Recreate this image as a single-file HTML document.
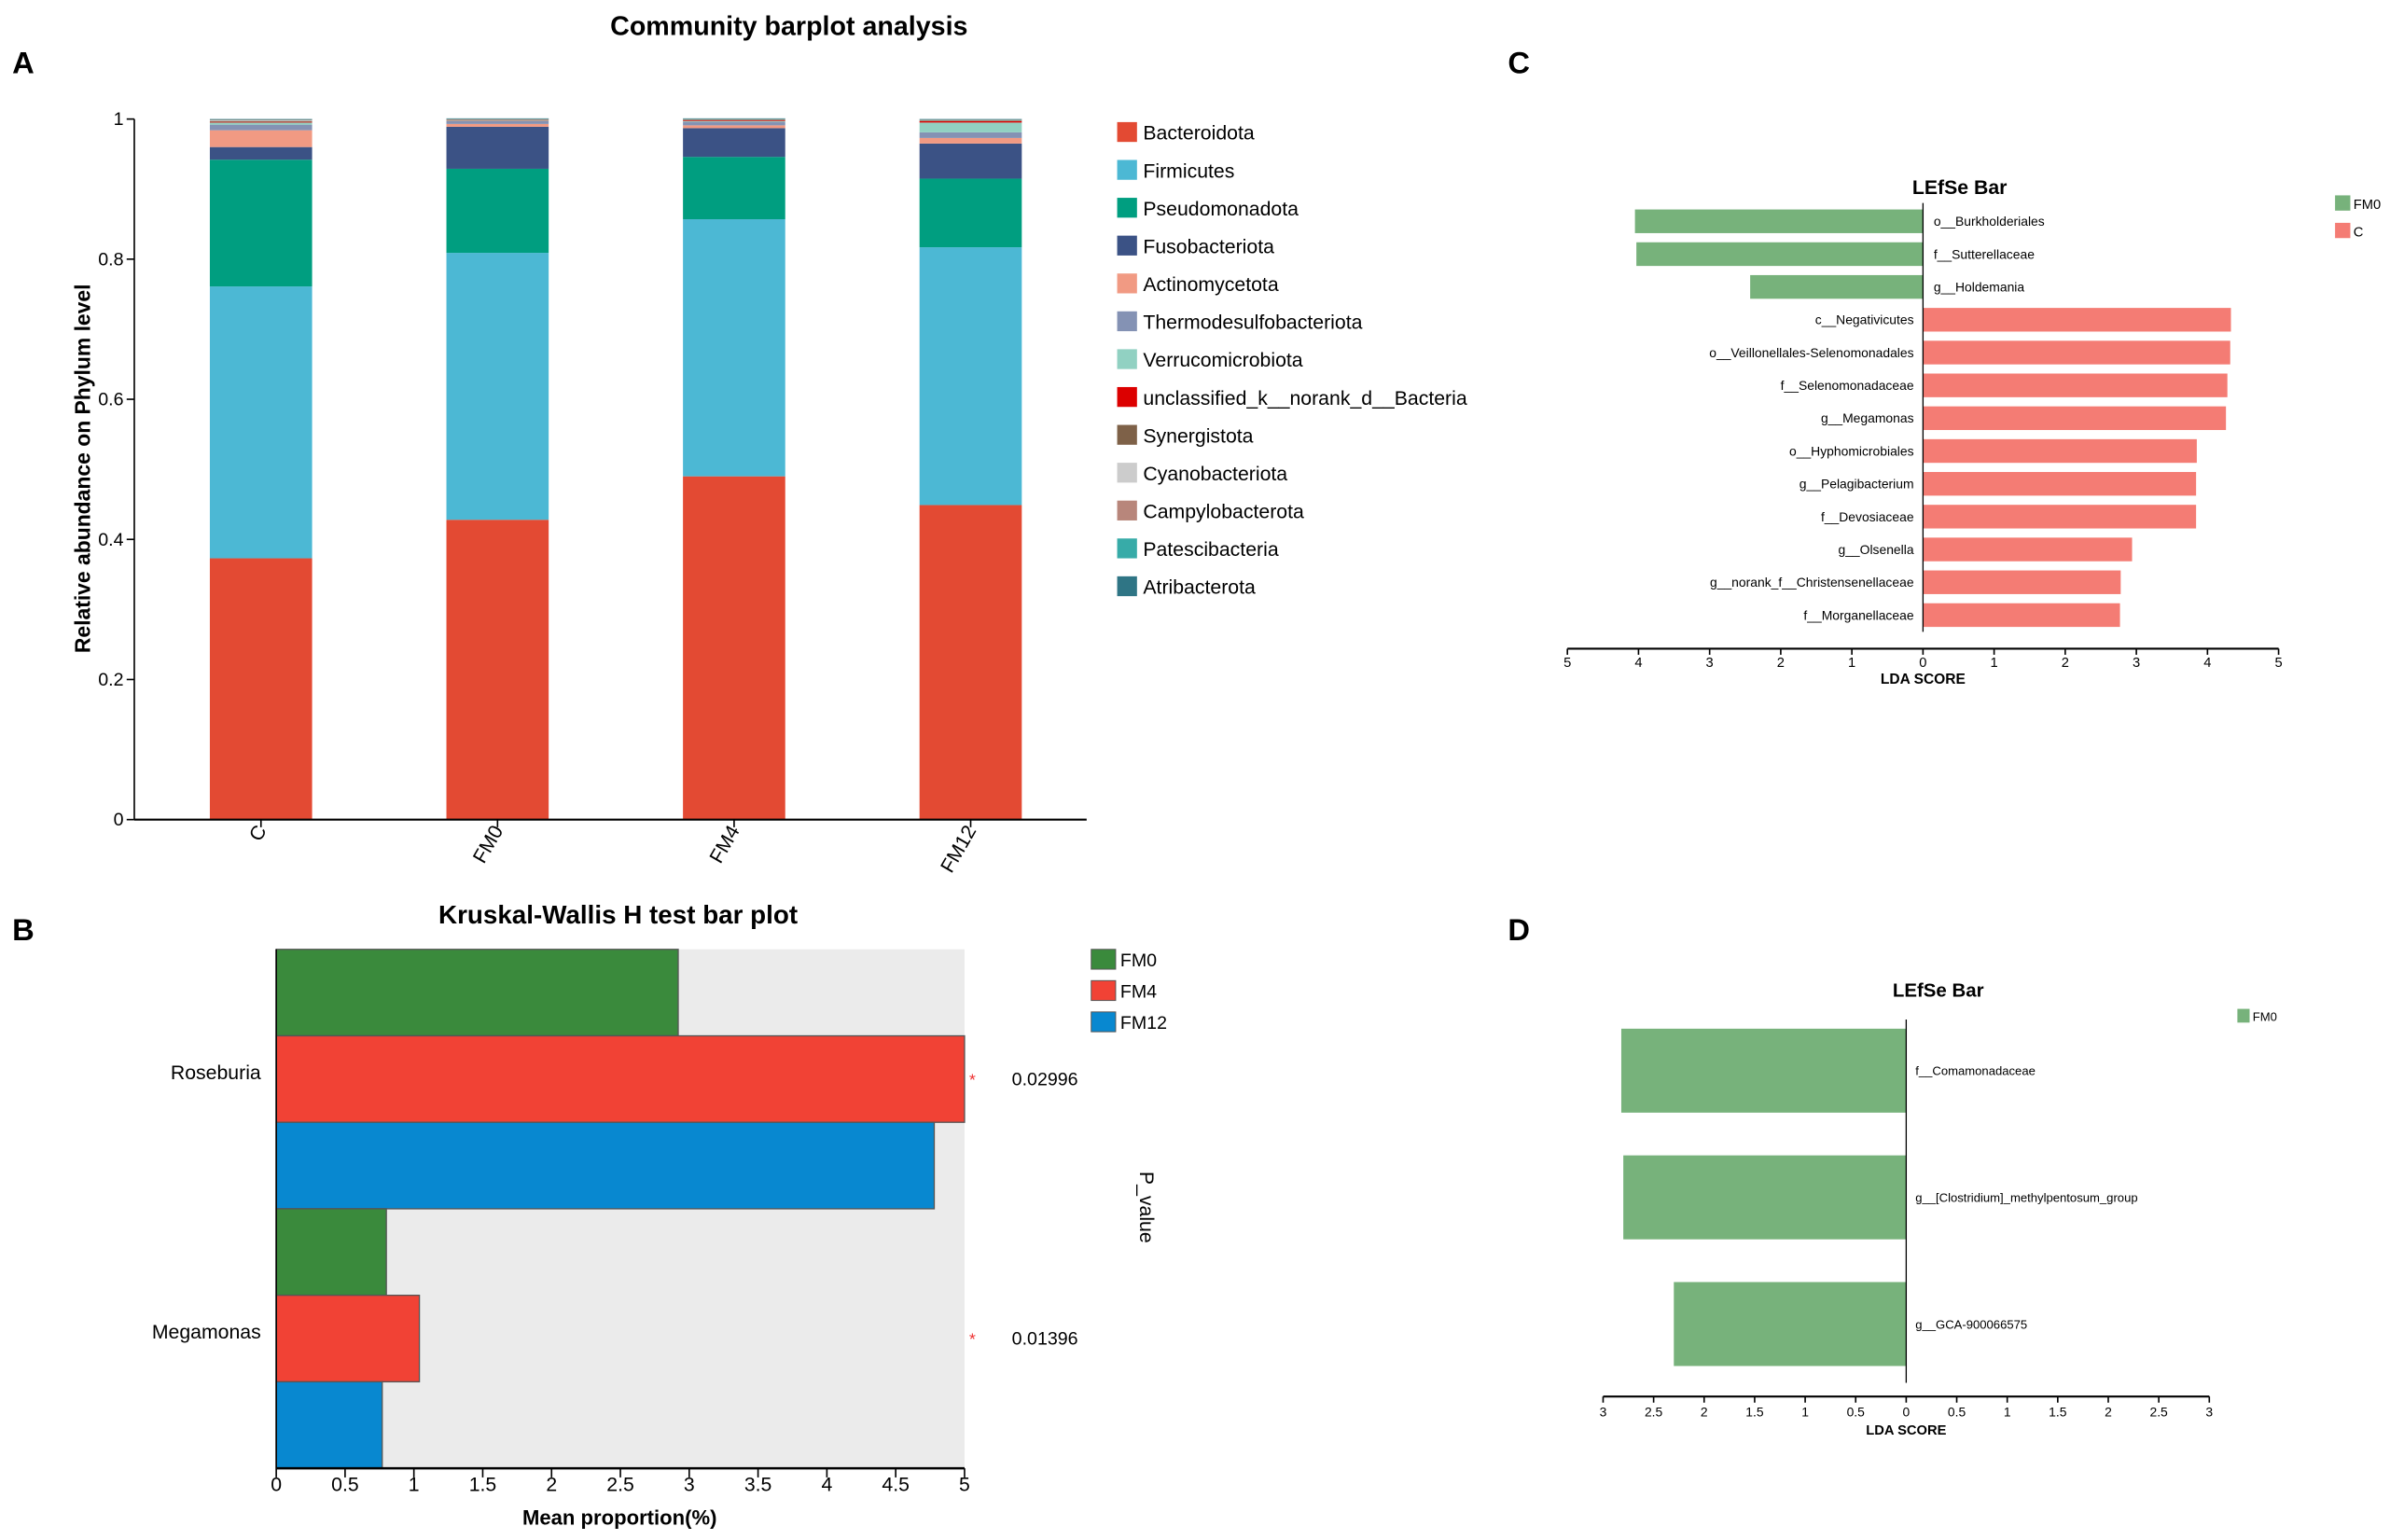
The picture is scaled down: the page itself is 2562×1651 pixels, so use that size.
<!DOCTYPE html>
<html><head><meta charset="utf-8">
<style>
html,body{margin:0;padding:0;background:#fff;}
svg{display:block;font-family:"Liberation Sans Narrow","Liberation Sans",sans-serif;}
.b{font-family:"Liberation Sans",sans-serif;font-weight:bold;}
</style></head>
<body>
<svg id="fig" width="2562" height="1651" viewBox="0 0 1566 1009" preserveAspectRatio="none" xmlns="http://www.w3.org/2000/svg">
<rect width="1566" height="1009" fill="#fff"/>
<g id="pA"></g>
<g id="pB"></g>
<g id="pC"></g>
<g id="pD"></g>
</svg>
<script>
// ---- Panel A data ----
const aGroups = ["C","FM0","FM4","FM12"];
const aPhyla = ["Bacteroidota","Firmicutes","Pseudomonadota","Fusobacteriota","Actinomycetota","Thermodesulfobacteriota","Verrucomicrobiota","unclassified_k__norank_d__Bacteria","Synergistota","Cyanobacteriota","Campylobacterota","Patescibacteria","Atribacterota"];
const aColors = ["#e34a33","#4cb8d4","#009e80","#3b5285","#f19a83","#8492b4","#91d1c2","#dc0000","#7e6148","#cccccc","#b8867b","#37aba8","#2f7585"];
const aC    = [0.373,0.388,0.181,0.018,0.024,0.008,0.003,0.001,0.001,0.001,0.001,0.0005,0.0005];
const aFM0  = [0.428,0.381,0.120,0.060,0.004,0.004,0.001,0.0005,0.0005,0.0005,0.0005,0.0005,0.0005];
const aFM4  = [0.490,0.367,0.089,0.041,0.004,0.005,0.001,0.001,0.001,0.0005,0.0005,0.0005,0.0005];
const aFM12 = [0.449,0.368,0.098,0.050,0.008,0.008,0.014,0.002,0.001,0.0005,0.0005,0.0005,0.0005];
const aTicks = [0,0.2,0.4,0.6,0.8,1];
const aTickLabels = ["0","0.2","0.4","0.6","0.8","1"];
// ---- Panel B data ----
const bTaxa = ["Roseburia","Megamonas"];
const bSeries = ["FM0","FM4","FM12"];
const bColors = ["#3a8a3c","#f14235","#0888d0"];
const bFM0 = [2.92,0.80];
const bFM4 = [5.0,1.04];
const bFM12 = [4.78,0.77];
const bPvals = ["0.02996","0.01396"];
const bTicks = [0,0.5,1,1.5,2,2.5,3,3.5,4,4.5,5];
const bTickLabels = ["0","0.5","1","1.5","2","2.5","3","3.5","4","4.5","5"];
// ---- Panel C data ----
const cTaxa = ["o__Burkholderiales","f__Sutterellaceae","g__Holdemania","c__Negativicutes","o__Veillonellales-Selenomonadales","f__Selenomonadaceae","g__Megamonas","o__Hyphomicrobiales","g__Pelagibacterium","f__Devosiaceae","g__Olsenella","g__norank_f__Christensenellaceae","f__Morganellaceae"];
const cGroup = ["FM0","FM0","FM0","C","C","C","C","C","C","C","C","C","C"];
const cLDA = [4.05,4.03,2.43,4.33,4.32,4.28,4.26,3.85,3.84,3.84,2.94,2.78,2.77];
const cTicks = [-5,-4,-3,-2,-1,0,1,2,3,4,5];
const cTickLabels = ["5","4","3","2","1","0","1","2","3","4","5"];
// ---- Panel D data ----
const dTaxa = ["f__Comamonadaceae","g__[Clostridium]_methylpentosum_group","g__GCA-900066575"];
const dLDA = [2.82,2.80,2.30];
const dTicks = [-3,-2.5,-2,-1.5,-1,-0.5,0,0.5,1,1.5,2,2.5,3];
const dTickLabels = ["3","2.5","2","1.5","1","0.5","0","0.5","1","1.5","2","2.5","3"];

const NS="http://www.w3.org/2000/svg";
function mk(parent,tag,attrs,text){const e=document.createElementNS(NS,tag);for(const k in attrs)e.setAttribute(k,attrs[k]);if(text!==undefined)e.textContent=text;parent.appendChild(e);return e;}

// ===== Panel A =====
(function(){
const g=document.getElementById('pA');
let e;
e=mk(g,'text',{x:8,y:48,'font-size':20,class:'b'},'A');


e=mk(g,'text',{x:517,y:23,'font-size':17.5,class:'b','text-anchor':'middle'},'Community barplot analysis');


const y0=537,y1=78,xL=88,xR=712;
const yS=v=>y0-(y1-y0)*-v;
const centers=[171,326,481,636],bw=67;
const data=[aC,aFM0,aFM4,aFM12];
data.forEach((vals,gi)=>{
  let cum=0;
  vals.forEach((v,pi)=>{
    const top=yS(cum+v),bot=yS(cum);
    const r=mk(g,'rect',{x:centers[gi]-bw/2,y:top,width:bw,height:Math.max(bot-top,0.3),fill:aColors[pi]});
    
    
    cum+=v;
  });
});
mk(g,'line',{x1:xL,y1:y0,x2:xR,y2:y0,stroke:'#000','stroke-width':1.3});
e=mk(g,'line',{x1:xL,y1:y0,x2:xL,y2:y1,stroke:'#000','stroke-width':1});


aTicks.forEach((t,i)=>{
  const y=yS(t);
  mk(g,'line',{x1:xL-5,y1:y,x2:xL,y2:y,stroke:'#000'});
  const tx=mk(g,'text',{x:xL-7,y:y+4,'font-size':12,'text-anchor':'end'},aTickLabels[i]);
  
  
});
const cp=mk(g,'clipPath',{id:'clipA'});
mk(cp,'rect',{x:0,y:540,width:720,height:34});
const xl=mk(g,'g',{'clip-path':'url(#clipA)'});
aGroups.forEach((n,i)=>{
  mk(g,'line',{x1:centers[i],y1:y0,x2:centers[i],y2:y0+5,stroke:'#000'});
  const tx=mk(xl,'text',{x:0,y:0,'font-size':13,'text-anchor':'end',transform:`translate(${centers[i]+4},${y0+7}) rotate(-60)`},n);
  
  
});
e=mk(g,'text',{x:0,y:0,'font-size':14,class:'b','text-anchor':'middle',transform:'translate(59,307) rotate(-90)'},'Relative abundance on Phylum level');


aPhyla.forEach((n,i)=>{
  const y=80+i*24.8;
  const lg=mk(g,'g',{});
  
  
  mk(lg,'rect',{x:732,y:y,width:13,height:13,fill:aColors[i]});
  mk(lg,'text',{x:749,y:y+11.5,'font-size':13},n);
});
})();

// ===== Panel B =====
(function(){
const g=document.getElementById('pB');
let e;
e=mk(g,'text',{x:8,y:616,'font-size':20,class:'b'},'B');


e=mk(g,'text',{x:405,y:605,'font-size':17,class:'b','text-anchor':'middle'},'Kruskal-Wallis H test bar plot');


const x0=181,x5=632,yT=622,yB=962;
const xS=v=>x0+(x5-x0)*v/5;
e=mk(g,'rect',{x:x0,y:yT,width:x5-x0,height:yB-yT,fill:'#ebebeb'});


const series=[bFM0,bFM4,bFM12];
const bh=(yB-yT)/6;
bTaxa.forEach((t,ti)=>{
  series.forEach((s,si)=>{
    const y=yT+(ti*3+si)*bh;
    const r=mk(g,'rect',{x:x0,y:y,width:xS(s[ti])-x0,height:bh,fill:bColors[si],stroke:'#555','stroke-width':0.8});
    
    
  });
  const cy=yT+(ti*3+1.5)*bh;
  const lb=mk(g,'text',{x:171,y:cy-0,'font-size':13,'text-anchor':'end'},t);
  
  
  mk(g,'text',{x:635,y:cy+4,'font-size':11,fill:'#e33'},'*');
  const pv=mk(g,'text',{x:663,y:cy+4,'font-size':12},bPvals[ti]);
  
  
});
mk(g,'line',{x1:x0,y1:yB,x2:x5,y2:yB,stroke:'#000','stroke-width':1.5});
mk(g,'line',{x1:x0,y1:yT,x2:x0,y2:yB,stroke:'#000','stroke-width':1});
bTicks.forEach((t,i)=>{
  const x=xS(t);
  mk(g,'line',{x1:x,y1:yB,x2:x,y2:yB+6,stroke:'#000'});
  const tx=mk(g,'text',{x:x,y:yB+15,'font-size':13,'text-anchor':'middle'},bTickLabels[i]);
  
  
});
e=mk(g,'text',{x:406,y:999,'font-size':13.5,class:'b','text-anchor':'middle'},'Mean proportion(%)');


e=mk(g,'text',{x:0,y:0,'font-size':13,'text-anchor':'middle',transform:'translate(747,791) rotate(90)'},'P_value');


bSeries.forEach((n,i)=>{
  const y=622+i*20.5;
  const lg=mk(g,'g',{});
  
  
  mk(lg,'rect',{x:715,y:y,width:16,height:13,fill:bColors[i],stroke:'#555','stroke-width':0.6});
  mk(lg,'text',{x:734,y:y+11,'font-size':12},n);
});
})();

// ===== Panel C =====
(function(){
const g=document.getElementById('pC');
let e;
e=mk(g,'text',{x:988,y:48,'font-size':20,class:'b'},'C');


e=mk(g,'text',{x:1284,y:127,'font-size':13,class:'b','text-anchor':'middle'},'LEfSe Bar');


const xZ=1260,u=46.6;
const xS=v=>xZ+v*u;
const rowY=i=>145+i*21.5,bh=15.5;
cTaxa.forEach((t,i)=>{
  const fm=cGroup[i]==='FM0';
  const v=cLDA[i];
  const x=fm?xS(-v):xZ;
  const r=mk(g,'rect',{x:x,y:rowY(i)-bh/2,width:v*u,height:bh,fill:fm?'#77b27b':'#f47c74'});
  
  
  const tx=mk(g,'text',{x:fm?xZ+7:xZ-6,y:rowY(i)+3,'font-size':8.5,'text-anchor':fm?'start':'end'},t);
  
  
});
mk(g,'line',{x1:xZ,y1:133,x2:xZ,y2:414,stroke:'#000','stroke-width':0.8});
mk(g,'line',{x1:xS(-5),y1:425,x2:xS(5),y2:425,stroke:'#000','stroke-width':1.3});
cTicks.forEach((t,i)=>{
  const x=xS(t);
  mk(g,'line',{x1:x,y1:425,x2:x,y2:429,stroke:'#000'});
  const tx=mk(g,'text',{x:x,y:437,'font-size':9,'text-anchor':'middle'},cTickLabels[i]);
  
  
});
e=mk(g,'text',{x:xZ,y:448,'font-size':9.5,class:'b','text-anchor':'middle'},'LDA SCORE');


[['FM0','#77b27b'],['C','#f47c74']].forEach((p,i)=>{
  const lg=mk(g,'g',{});
  
  
  mk(lg,'rect',{x:1530,y:128+i*18,width:10,height:10,fill:p[1]});
  mk(lg,'text',{x:1542,y:137+i*18,'font-size':9},p[0]);
});
})();

// ===== Panel D =====
(function(){
const g=document.getElementById('pD');
let e;
e=mk(g,'text',{x:988,y:616,'font-size':20,class:'b'},'D');


e=mk(g,'text',{x:1270,y:653,'font-size':12.5,class:'b','text-anchor':'middle'},'LEfSe Bar');


const xZ=1249,u=66.2;
const xS=v=>xZ+v*u;
const rowY=i=>701.5+i*83,bh=55;
dTaxa.forEach((t,i)=>{
  const v=dLDA[i];
  const r=mk(g,'rect',{x:xS(-v),y:rowY(i)-bh/2,width:v*u,height:bh,fill:'#77b27b'});
  
  
  const tx=mk(g,'text',{x:xZ+6,y:rowY(i)+3,'font-size':8,'text-anchor':'start'},t);
  
  
});
mk(g,'line',{x1:xZ,y1:668,x2:xZ,y2:906,stroke:'#000','stroke-width':0.8});
mk(g,'line',{x1:xS(-3),y1:915,x2:xS(3),y2:915,stroke:'#000','stroke-width':1.3});
dTicks.forEach((t,i)=>{
  const x=xS(t);
  mk(g,'line',{x1:x,y1:915,x2:x,y2:919,stroke:'#000'});
  const tx=mk(g,'text',{x:x,y:928,'font-size':8.5,'text-anchor':'middle'},dTickLabels[i]);
  
  
});
e=mk(g,'text',{x:xZ,y:940,'font-size':9,class:'b','text-anchor':'middle'},'LDA SCORE');


const lg=mk(g,'g',{});


mk(lg,'rect',{x:1466,y:661,width:8,height:9,fill:'#77b27b'});
mk(lg,'text',{x:1476,y:669,'font-size':8},'FM0');
})();
</script>
</body></html>
